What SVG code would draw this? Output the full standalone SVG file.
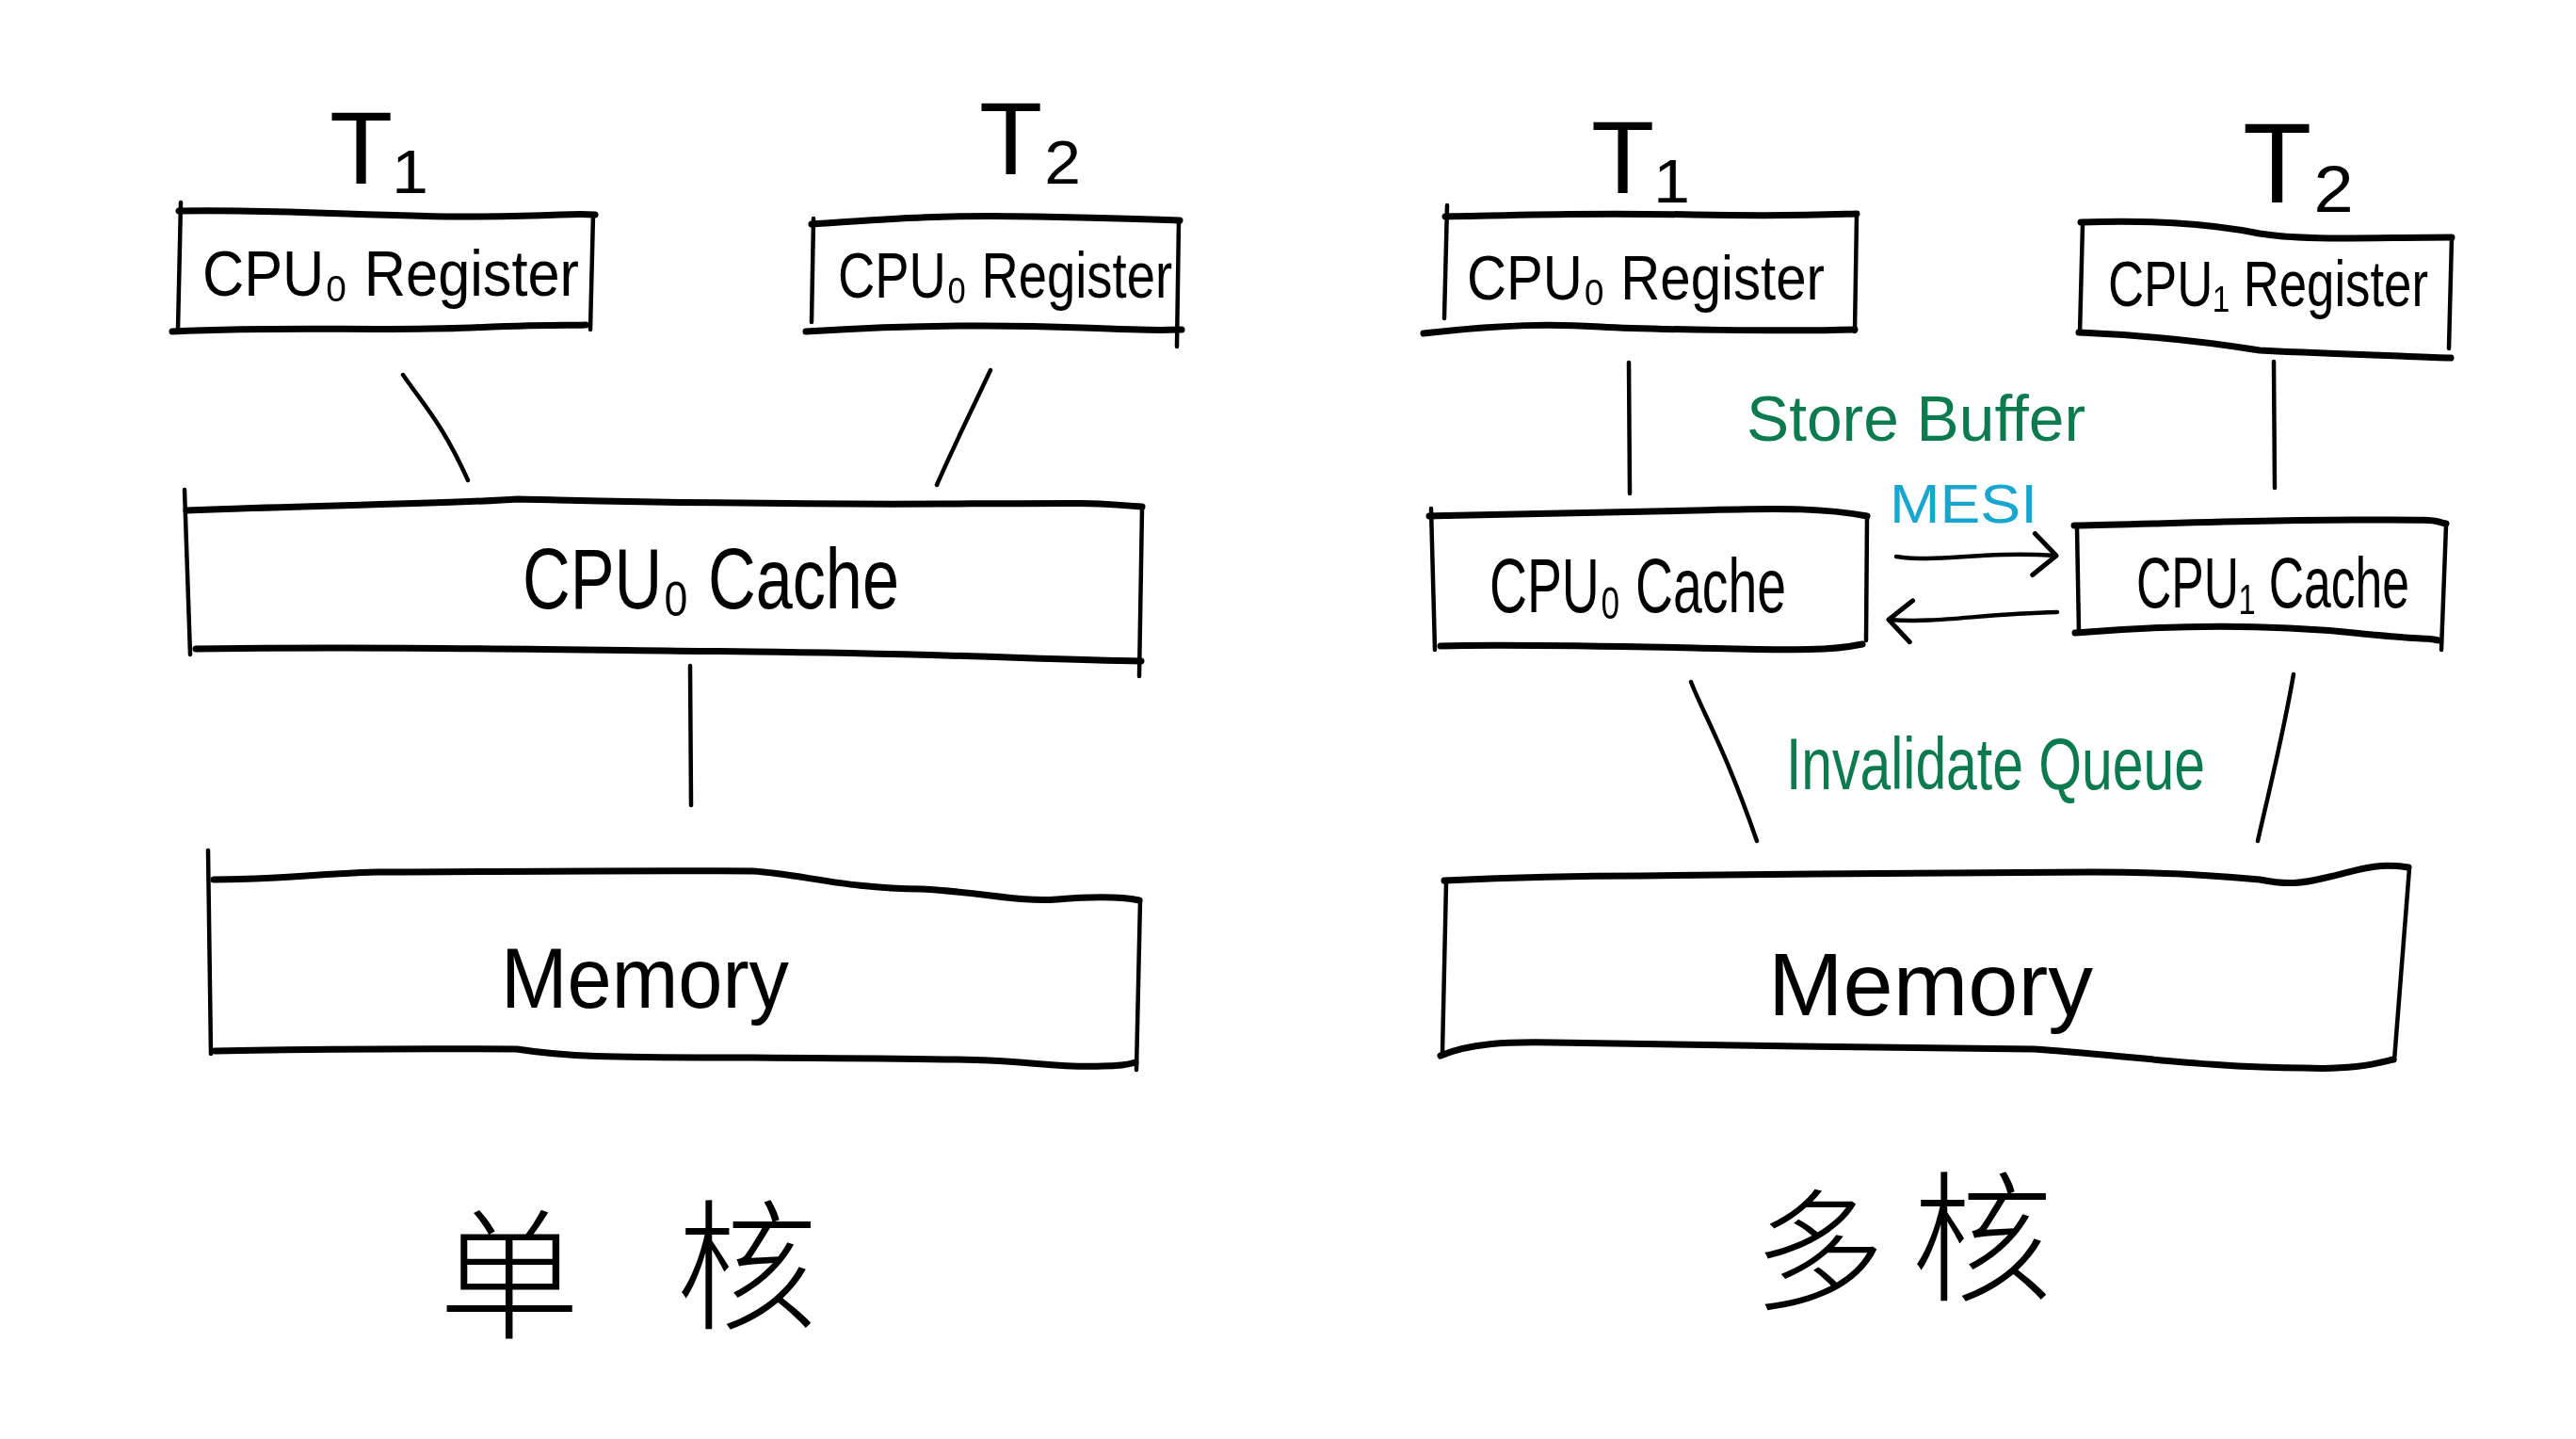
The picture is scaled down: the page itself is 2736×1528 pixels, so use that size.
<svg xmlns="http://www.w3.org/2000/svg" width="2736" height="1528" viewBox="0 0 2736 1528">
<style>
.box{fill:none;stroke:#000;stroke-width:7;stroke-linecap:round;stroke-linejoin:round}
.side{fill:none;stroke:#000;stroke-width:4.5;stroke-linecap:round}
.ln{fill:none;stroke:#000;stroke-width:4.5;stroke-linecap:round}
.t{font-family:"Liberation Sans","DejaVu Sans",Arial,sans-serif;fill:#000}
.cjk{font-family:"Noto Sans CJK SC","Liberation Sans",sans-serif;fill:#000;font-weight:300}
.g{fill:#0b7a4e}
.b{fill:#18a6cf}
</style>
<defs>
<marker id="ah" viewBox="0 0 30 50" refX="27" refY="25" markerWidth="30" markerHeight="50" markerUnits="userSpaceOnUse" orient="auto">
<path d="M3,3 L27,25 L3,47" fill="none" stroke="#000" stroke-width="5" stroke-linecap="round" stroke-linejoin="round"/>
</marker>
</defs>
<rect width="2736" height="1528" fill="#fff"/>

<!-- Left: single core -->
<g id="t1-left"><text class="t" x="350" y="195" font-size="110">T₁</text></g>
<g id="t2-left"><text class="t" x="1040" y="185" font-size="110">T₂</text></g>

<g id="reg0-left">
<path class="box" d="M190,224 C300,222 400,230 500,230 S600,226 632,228"/>
<path class="box" d="M183,352 C300,346 400,352 500,348 S600,346 622,345"/>
<path class="side" d="M192,215 L189,350 M630,228 L627,350"/>
<text class="t" x="215" y="314" font-size="68" textLength="400" lengthAdjust="spacingAndGlyphs">CPU₀   Register</text>
</g>
<g id="reg1-left">
<path class="box" d="M862,238 C950,232 1000,228 1100,230 S1200,232 1253,234"/>
<path class="box" d="M856,352 C950,346 1050,344 1150,348 S1230,350 1255,350"/>
<path class="side" d="M864,232 L862,342 M1252,234 L1250,368"/>
<text class="t" x="890" y="316" font-size="68" textLength="355" lengthAdjust="spacingAndGlyphs">CPU₀ Register</text>
</g>

<g id="cache-left">
<path class="box" d="M198,542 C350,536 480,535 550,530 C650,532 800,536 1000,535 S1150,534 1213,538"/>
<path class="box" d="M208,689 C400,686 600,690 800,692 S1100,700 1212,702"/>
<path class="side" d="M196,520 L202,695 M1213,540 L1210,718"/>
<text class="t" x="555" y="646" font-size="90" textLength="400" lengthAdjust="spacingAndGlyphs">CPU₀   Cache</text>
</g>

<g id="memory-left">
<path class="box" d="M227,934 C300,934 330,928 400,926 C500,926 650,924 800,925 C850,928 900,944 979,944 C1050,948 1080,958 1123,955 C1160,952 1190,952 1210,956"/>
<path class="box" d="M228,1116 C320,1114 400,1113 549,1114 C600,1122 640,1123 800,1123 C950,1124 1000,1124 1050,1126 C1100,1128 1130,1134 1171,1132 C1190,1132 1200,1130 1206,1128"/>
<path class="side" d="M221,903 L224,1119 M1211,956 L1207,1136"/>
<text class="t" x="532" y="1070" font-size="90" textLength="306" lengthAdjust="spacingAndGlyphs">Memory</text>
</g>

<!-- Right: multi core -->
<g id="t1-right"><text class="t" x="1690" y="205" font-size="110">T₁</text></g>
<g id="t2-right"><text class="t" x="2382" y="215" font-size="120">T₂</text></g>

<g id="reg0-right">
<path class="box" d="M1535,230 C1620,228 1700,226 1800,228 S1940,228 1972,227"/>
<path class="box" d="M1512,354 C1600,344 1650,344 1700,347 S1900,352 1970,350"/>
<path class="side" d="M1537,218 L1534,338 M1972,228 L1970,352"/>
<text class="t" x="1558" y="318" font-size="66" textLength="380" lengthAdjust="spacingAndGlyphs">CPU₀  Register</text>
</g>
<g id="reg1-right">
<path class="box" d="M2210,236 C2280,234 2340,236 2400,248 C2450,256 2520,252 2604,252"/>
<path class="box" d="M2208,353 C2280,356 2350,364 2400,372 C2480,376 2550,378 2603,380"/>
<path class="side" d="M2212,238 L2209,354 M2604,252 L2601,370"/>
<text class="t" x="2239" y="325" font-size="68" textLength="340" lengthAdjust="spacingAndGlyphs">CPU₁ Register</text>
</g>

<g id="cache0-right">
<path class="box" d="M1518,548 C1600,547 1700,545 1800,542 S1940,540 1983,548"/>
<path class="box" d="M1530,686 C1600,684 1700,686 1800,688 S1940,692 1978,684"/>
<path class="side" d="M1520,540 L1524,690 M1983,550 L1982,680"/>
<text class="t" x="1582" y="650" font-size="82" textLength="315" lengthAdjust="spacingAndGlyphs">CPU₀  Cache</text>
</g>
<g id="cache1-right">
<path class="box" d="M2203,558 C2300,556 2400,552 2500,552 S2580,552 2598,556"/>
<path class="box" d="M2204,672 C2300,664 2400,662 2500,672 S2570,676 2590,680"/>
<path class="side" d="M2206,560 L2208,672 M2598,558 L2593,690"/>
<text class="t" x="2269" y="645" font-size="76" textLength="290" lengthAdjust="spacingAndGlyphs">CPU₁  Cache</text>
</g>

<g id="memory-right">
<path class="box" d="M1534,935 C1600,932 1680,930 1745,930 C1900,928 2100,926 2223,926 C2300,926 2360,930 2400,934 C2430,940 2445,938 2470,932 C2500,926 2520,915 2558,921"/>
<path class="box" d="M1530,1121 C1560,1108 1600,1106 1649,1107 C1800,1110 2000,1112 2160,1114 C2250,1120 2350,1134 2447,1134 C2500,1136 2520,1130 2542,1125"/>
<path class="side" d="M1536,937 L1532,1118 M2559,922 L2543,1126"/>
<text class="t" x="1878" y="1078" font-size="94" textLength="345" lengthAdjust="spacingAndGlyphs">Memory</text>
</g>

<g id="labels">
<text class="t g" x="1855" y="468" font-size="68" textLength="360" lengthAdjust="spacingAndGlyphs">Store Buffer</text>
<text class="t b" x="2007" y="555" font-size="58" textLength="157" lengthAdjust="spacingAndGlyphs">MESI</text>
<text class="t g" x="1897" y="838" font-size="78" textLength="445" lengthAdjust="spacingAndGlyphs">Invalidate Queue</text>
</g>

<g id="caption-left"><text class="cjk" x="466" y="1410" font-size="150">单</text><text class="cjk" x="718" y="1400" font-size="150">核</text></g>
<g id="caption-right"><text class="cjk" x="1862" y="1380" font-size="140">多</text><text class="cjk" x="2030" y="1370" font-size="150">核</text></g>

<g id="connectors">
<path class="ln" d="M428,398 C450,430 470,450 497,510"/>
<path class="ln" d="M1052,393 C1030,440 1010,480 995,515"/>
<path class="ln" d="M733,707 L734,855"/>
<path class="ln" d="M1730,385 L1731,524"/>
<path class="ln" d="M2415,384 L2416,518"/>
<path class="ln" d="M1796,724 C1810,760 1830,790 1866,893"/>
<path class="ln" d="M2436,716 C2425,780 2410,840 2398,893"/>
<path class="ln" d="M2014,591 C2060,598 2100,585 2184,590" marker-end="url(#ah)"/>
<path class="ln" d="M2185,650 C2100,652 2060,662 2006,658" marker-end="url(#ah)"/>
</g>
</svg>
